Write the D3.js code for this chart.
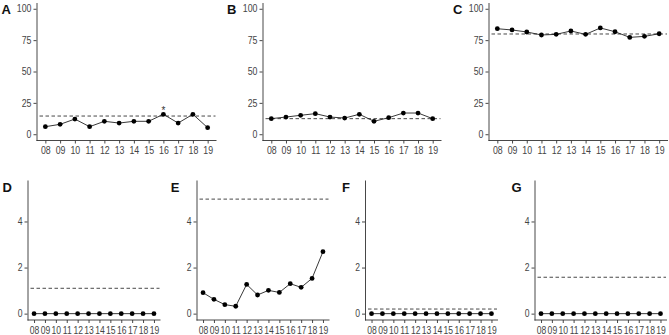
<!DOCTYPE html>
<html>
<head>
<meta charset="utf-8">
<script src="https://cdn.jsdelivr.net/npm/d3@7"></script>
<style>
    body { margin: 0; background: #fff; }
    svg { display: block; font-family: "Liberation Sans", Arial, sans-serif; }
    .tick text { fill: #444; font-size: 10px; }
    .tick line, .domain { stroke: #333; stroke-width: 0.9; }
    .panel-label { font-weight: bold; font-size: 13px; fill: #111; }
</style>
</head>
<body>
<svg id="chart" width="669" height="335"></svg>
<script>
// data
const YEARS = ['08', '09', '10', '11', '12', '13', '14', '15', '16', '17', '18', '19'];
const PANEL_LABELS = ['A', 'B', 'C', 'D', 'E', 'F', 'G'];

const SERIES_A = [6.0, 7.9, 12.1, 6.0, 10.3, 8.9, 10.3, 10.3, 15.9, 8.9, 15.9, 5.2];
const SERIES_B = [12.4, 13.7, 15.1, 16.4, 13.7, 12.9, 15.9, 10.3, 13.2, 16.9, 16.9, 12.4];
const SERIES_C = [84.1, 83.1, 81.5, 79.1, 79.6, 82.3, 79.6, 84.7, 81.7, 77.2, 78.0, 80.1];
const SERIES_D = [0, 0, 0, 0, 0, 0, 0, 0, 0, 0, 0, 0];
const SERIES_E = [0.91, 0.62, 0.39, 0.32, 1.27, 0.81, 1.01, 0.92, 1.30, 1.14, 1.53, 2.69];
const SERIES_F = [0, 0, 0, 0, 0, 0, 0, 0, 0, 0, 0, 0];
const SERIES_G = [0, 0, 0, 0, 0, 0, 0, 0, 0, 0, 0, 0];

// dashed reference level per panel
const REF_LEVELS = [14.5, 12.4, 79.9, 1.10, 4.97, 0.20, 1.58];

const TOP_TICKS = [0, 25, 50, 75, 100];
const BOTTOM_TICKS = [0, 2, 4];
const TOP_DOMAIN = [-5, 105];
const BOTTOM_DOMAIN = [-0.276, 5.8];

// significance marks: [panel, year]
const STARRED = [['A', '16']];

const ALL_SERIES = [SERIES_A, SERIES_B, SERIES_C, SERIES_D, SERIES_E, SERIES_F, SERIES_G];

// panel placement (y axis x, right end of x axis, label x); squeeze = text narrowing
const TOP_ROW = { top: 2.5, bottom: 140.5, ticks: TOP_TICKS, domain: TOP_DOMAIN, labelY: 13.5, squeeze: 0.88 };
const BOTTOM_ROW = { top: 180, bottom: 320, ticks: BOTTOM_TICKS, domain: BOTTOM_DOMAIN, labelY: 191.7, squeeze: 0.86 };
const LAYOUT = [
    { row: TOP_ROW, x0: 36.5, x1: 216.5, lx: 1.6 },
    { row: TOP_ROW, x0: 262.5, x1: 441.5, lx: 227 },
    { row: TOP_ROW, x0: 488.5, x1: 668, lx: 453 },
    { row: BOTTOM_ROW, x0: 27.5, x1: 160.5, lx: 2.4 },
    { row: BOTTOM_ROW, x0: 196.5, x1: 329.5, lx: 170.8 },
    { row: BOTTOM_ROW, x0: 365, x1: 498, lx: 342 },
    { row: BOTTOM_ROW, x0: 534.5, x1: 667, lx: 511.4 }
];

const svg = d3.select('#chart');

PANEL_LABELS.forEach(function (label, i) {
    var lay = LAYOUT[i];
    var row = lay.row;
    var values = ALL_SERIES[i];
    var g = svg.append('g').attr('class', 'panel');

    var x = d3.scalePoint()
        .domain(YEARS)
        .range([lay.x0, lay.x1])
        .padding(0.6);
    var y = d3.scaleLinear()
        .domain(row.domain)
        .range([row.bottom, row.top]);

    // reference line
    g.append('line')
        .attr('x1', lay.x0 + 3)
        .attr('x2', lay.x1 - 1)
        .attr('y1', y(REF_LEVELS[i]))
        .attr('y2', y(REF_LEVELS[i]))
        .attr('stroke', '#333')
        .attr('stroke-width', 0.9)
        .attr('stroke-dasharray', '3.5,2.5');

    var line = d3.line()
        .x(function (d, j) { return x(YEARS[j]); })
        .y(function (d) { return y(d); });

    g.append('path')
        .datum(values)
        .attr('d', line)
        .attr('fill', 'none')
        .attr('stroke', '#222')
        .attr('stroke-width', 0.9);

    g.selectAll('circle')
        .data(values)
        .enter()
        .append('circle')
        .attr('cx', function (d, j) { return x(YEARS[j]); })
        .attr('cy', function (d) { return y(d); })
        .attr('r', 2.4)
        .attr('fill', '#000');

    STARRED.filter(function (s) { return s[0] === label; }).forEach(function (s) {
        var v = values[YEARS.indexOf(s[1])];
        g.append('text')
            .attr('x', x(s[1]))
            .attr('y', y(v) - 0.5)
            .attr('text-anchor', 'middle')
            .attr('font-size', '10px')
            .attr('fill', '#333')
            .text('*');
    });

    var yAxis = d3.axisLeft(y)
        .tickValues(row.ticks)
        .tickFormat(d3.format('d'))
        .tickSize(3)
        .tickPadding(2)
        .tickSizeOuter(0);
    var yg = g.append('g')
        .attr('transform', 'translate(' + lay.x0 + ',0)')
        .call(yAxis);
    yg.selectAll('.tick text')
        .attr('x', -5)
        .attr('transform', 'translate(-5,0) scale(' + row.squeeze + ',1) translate(5,0)');

    var xAxis = d3.axisBottom(x)
        .tickSize(3)
        .tickPadding(3.5)
        .tickSizeOuter(0);
    var xg = g.append('g')
        .attr('transform', 'translate(0,' + row.bottom + ')')
        .call(xAxis);
    xg.selectAll('.tick text')
        .attr('transform', 'scale(' + row.squeeze + ',1)');
    // extend the x axis line to meet the y axis
    xg.select('.domain').attr('d', 'M' + lay.x0 + ',0H' + lay.x1);

    g.selectAll('.tick text').attr('font-size', null);
    g.selectAll('g[font-family]').attr('font-family', null);

    g.append('text')
        .attr('class', 'panel-label')
        .attr('x', lay.lx)
        .attr('y', row.labelY)
        .text(label);
});
</script>
</body>
</html>
